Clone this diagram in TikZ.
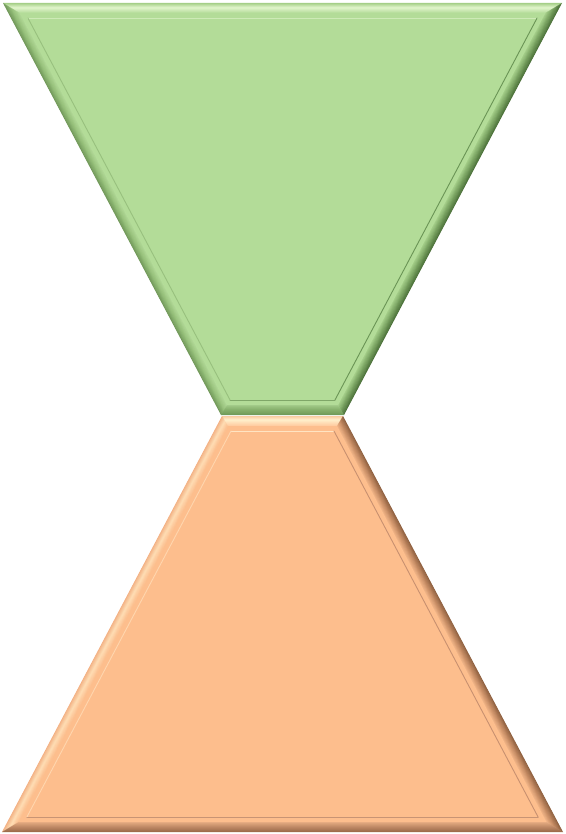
\documentclass[tikz,border=0pt]{standalone}
\usepackage{tikz}
% green
\definecolor{gbase}{HTML}{B3DC98}
\definecolor{gT0}{HTML}{9CCB7E}\definecolor{gT1}{HTML}{E2F6CC}\definecolor{gT2}{HTML}{B8DE9E}
\definecolor{gL0}{HTML}{6F9658}\definecolor{gL1}{HTML}{96C07A}\definecolor{gL2}{HTML}{B0D896}
\definecolor{gR0}{HTML}{4A6F38}\definecolor{gR1}{HTML}{78A260}\definecolor{gR2}{HTML}{A8D28C}
\definecolor{gB0}{HTML}{6E9A58}\definecolor{gB1}{HTML}{86B06C}\definecolor{gB2}{HTML}{A4CC8A}
\definecolor{gLineT}{HTML}{CDEAB6}\definecolor{gLineL}{HTML}{98C07E}
\definecolor{gLineR}{HTML}{6A9455}\definecolor{gLineB}{HTML}{7FA768}
% orange
\definecolor{obase}{HTML}{FDBE8D}
\definecolor{oT0}{HTML}{F8C89C}\definecolor{oT1}{HTML}{FFF0CC}\definecolor{oT2}{HTML}{FFCB9F}
\definecolor{oL0}{HTML}{F2AE80}\definecolor{oL1}{HTML}{FFDDB4}\definecolor{oL2}{HTML}{FCC090}
\definecolor{oR0}{HTML}{8C5E3E}\definecolor{oR1}{HTML}{C48A62}\definecolor{oR2}{HTML}{F4B688}
\definecolor{oB0}{HTML}{9A6A4A}\definecolor{oB1}{HTML}{C08A66}\definecolor{oB2}{HTML}{E8AE84}
\definecolor{oLineT}{HTML}{FFE4C2}\definecolor{oLineL}{HTML}{FFD6AE}
\definecolor{oLineR}{HTML}{C89070}\definecolor{oLineB}{HTML}{C89474}
\newcommand\mixstop[6]{%
  \pgfmathsetmacro\mytmp{(#5)<(#6)?1:0}%
  \ifdim\mytmp pt>0.5pt
    \pgfmathtruncatemacro\mypc{100*(#5)/(#6)}%
    \colorlet{#1}{#3!\mypc!#2}%
  \else
    \pgfmathtruncatemacro\mypc{100*((#5)-(#6))/(10-(#6))}%
    \colorlet{#1}{#4!\mypc!#3}%
  \fi}
\tikzset{inline/.style={line width=0.9pt, line cap=round}}
\begin{document}
\begin{tikzpicture}[x=1pt,y=-1pt]
\useasboundingbox (0,0) rectangle (565,834);
% ---------- green inverted trapezoid ----------
\foreach \i in {0,...,19}{
  \pgfmathsetmacro\da{\i*0.5}
  \pgfmathsetmacro\db{\i*0.5+0.9}
  \pgfmathsetmacro\dm{\i*0.5+0.25}
  \mixstop{cT}{gT0}{gT1}{gT2}{\dm}{5}
  \mixstop{cL}{gL0}{gL1}{gL2}{\dm}{5}
  \mixstop{cR}{gR0}{gR1}{gR2}{\dm}{5}
  \mixstop{cB}{gB0}{gB1}{gB2}{\dm}{5}
  \coordinate (TLa) at ({3+1.66049*\da},{3+\da});
  \coordinate (TRa) at ({562-1.66049*\da},{3+\da});
  \coordinate (BRa) at ({344-0.60223*\da},{415-\da});
  \coordinate (BLa) at ({221+0.60223*\da},{415-\da});
  \coordinate (TLb) at ({3+1.66049*\db},{3+\db});
  \coordinate (TRb) at ({562-1.66049*\db},{3+\db});
  \coordinate (BRb) at ({344-0.60223*\db},{415-\db});
  \coordinate (BLb) at ({221+0.60223*\db},{415-\db});
  \fill[cT] (TLa) -- (TRa) -- (TRb) -- (TLb) -- cycle;
  \fill[cL] (TLa) -- (TLb) -- (BLb) -- (BLa) -- cycle;
  \fill[cR] (TRa) -- (BRa) -- (BRb) -- (TRb) -- cycle;
  \fill[cB] (BLa) -- (BRa) -- (BRb) -- (BLb) -- cycle;
}
\fill[gbase] ({3+16.6049},13) -- ({562-16.6049},13) -- ({344-6.0223},405) -- ({221+6.0223},405) -- cycle;
\coordinate (gi1) at ({3+1.66049*15},18);
\coordinate (gi2) at ({562-1.66049*15},18);
\coordinate (gi3) at ({344-0.60223*15},400);
\coordinate (gi4) at ({221+0.60223*15},400);
\draw[inline, gLineT] (gi1) -- (gi2);
\draw[inline, gLineR] (gi2) -- (gi3);
\draw[inline, gLineB] (gi3) -- (gi4);
\draw[inline, gLineL] (gi4) -- (gi1);
% ---------- orange trapezoid ----------
\foreach \i in {0,...,19}{
  \pgfmathsetmacro\da{\i*0.5}
  \pgfmathsetmacro\db{\i*0.5+0.9}
  \pgfmathsetmacro\dm{\i*0.5+0.25}
  \mixstop{cT}{oT0}{oT1}{oT2}{\dm}{4}
  \mixstop{cL}{oL0}{oL1}{oL2}{\dm}{5}
  \mixstop{cR}{oR0}{oR1}{oR2}{\dm}{5}
  \mixstop{cB}{oB0}{oB1}{oB2}{\dm}{5}
  \coordinate (TLa) at ({222+0.60237*\da},{416+\da});
  \coordinate (TRa) at ({343-0.60237*\da},{416+\da});
  \coordinate (BRa) at ({563-1.66007*\da},{832-\da});
  \coordinate (BLa) at ({2+1.66007*\da},{832-\da});
  \coordinate (TLb) at ({222+0.60237*\db},{416+\db});
  \coordinate (TRb) at ({343-0.60237*\db},{416+\db});
  \coordinate (BRb) at ({563-1.66007*\db},{832-\db});
  \coordinate (BLb) at ({2+1.66007*\db},{832-\db});
  \fill[cT] (TLa) -- (TRa) -- (TRb) -- (TLb) -- cycle;
  \fill[cL] (TLa) -- (TLb) -- (BLb) -- (BLa) -- cycle;
  \fill[cR] (TRa) -- (BRa) -- (BRb) -- (TRb) -- cycle;
  \fill[cB] (BLa) -- (BRa) -- (BRb) -- (BLb) -- cycle;
}
\fill[obase] ({222+6.0237},426) -- ({343-6.0237},426) -- ({563-16.6007},822) -- ({2+16.6007},822) -- cycle;
\coordinate (oi1) at ({222+0.60237*15},431);
\coordinate (oi2) at ({343-0.60237*15},431);
\coordinate (oi3) at ({563-1.66007*15},817);
\coordinate (oi4) at ({2+1.66007*15},817);
\draw[inline, oLineT] (oi1) -- (oi2);
\draw[inline, oLineR] (oi2) -- (oi3);
\draw[inline, oLineB] (oi3) -- (oi4);
\draw[inline, oLineL] (oi4) -- (oi1);
\end{tikzpicture}
\end{document}
